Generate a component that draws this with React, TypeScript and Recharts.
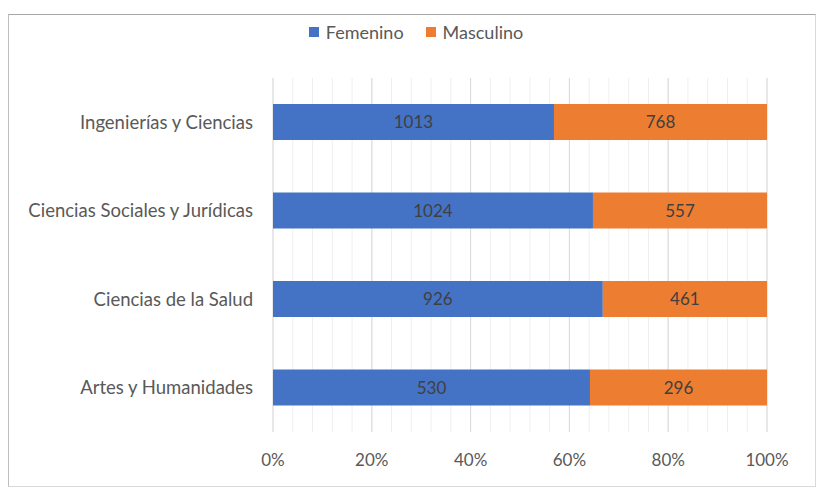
import React from 'react';
import { BarChart, Bar, XAxis, YAxis, CartesianGrid, Legend, LabelList } from 'recharts';

const categories = ['Ingenierías y Ciencias', 'Ciencias Sociales y Jurídicas', 'Ciencias de la Salud', 'Artes y Humanidades'];
const femenino = [1013, 1024, 926, 530];
const masculino = [768, 557, 461, 296];
const seriesNames = ['Femenino', 'Masculino'];
const seriesColors = ['#4472C4', '#ED7D31'];
const majorTicks = [0, 0.2, 0.4, 0.6, 0.8, 1];
const minorTicks = [0, 0.04, 0.08, 0.12, 0.16, 0.2, 0.24, 0.28, 0.32, 0.36, 0.4, 0.44, 0.48, 0.52, 0.56, 0.6, 0.64, 0.68, 0.72, 0.76, 0.8, 0.84, 0.88, 0.92, 0.96, 1];

const data = categories.map((name, i) => ({ name, Femenino: femenino[i], Masculino: masculino[i] }));

const FONT = 'Lato, "Noto Sans", sans-serif';

const LegendContent = () => (
  <div
    style={{
      height: 20,
      display: 'flex',
      justifyContent: 'center',
      alignItems: 'center',
      marginLeft: 8,
      fontFamily: FONT,
      fontSize: 18,
      color: '#595959',
    }}
  >
    {seriesNames.map((n, i) => (
      <div key={n} style={{ display: 'flex', alignItems: 'center', marginRight: i === 0 ? 22 : 0 }}>
        <span style={{ display: 'inline-block', width: 10, height: 10, background: seriesColors[i], marginRight: 7 }} />
        <span style={{ lineHeight: '20px' }}>{n}</span>
      </div>
    ))}
  </div>
);

export default function App() {
  return (
    <div
      style={{
        width: 808,
        height: 473,
        marginTop: 6,
        boxSizing: 'border-box',
        border: '1px solid #d9d9d9',
        borderTop: '1px solid #a6a6a6',
        borderLeft: '1px solid #bfbfbf',
        background: '#fff',
        fontFamily: FONT,
      }}
    >
      <BarChart
        width={806}
        height={471}
        data={data}
        layout="vertical"
        stackOffset="expand"
        margin={{ top: 43, right: 48, left: 0, bottom: 0 }}
      >
        <CartesianGrid
          horizontal={false}
          stroke="#efefef"
          strokeWidth={1}
          verticalCoordinatesGenerator={({ offset }: any) => minorTicks.map((t) => offset.left + t * offset.width)}
        />
        <CartesianGrid horizontal={false} stroke="#d9d9d9" strokeWidth={1} />
        <XAxis
          type="number"
          domain={[0, 1]}
          ticks={majorTicks}
          tickFormatter={(v: number) => `${Math.round(v * 100)}%`}
          axisLine={false}
          tickLine={false}
          tickSize={0}
          tickMargin={22}
          height={54}
          tick={{ fill: '#595959', fontSize: 17, fontFamily: FONT }}
        />
        <YAxis
          type="category"
          dataKey="name"
          width={264}
          axisLine={false}
          tickLine={false}
          tickSize={0}
          tickMargin={20}
          tick={{ fill: '#595959', fontSize: 18.5, fontFamily: FONT }}
        />
        <Legend
          verticalAlign="top"
          align="center"
          wrapperStyle={{ top: 7, left: 0, width: 806 }}
          content={() => <LegendContent />}
        />
        <Bar dataKey="Femenino" stackId="a" fill={seriesColors[0]} barSize={36} isAnimationActive={false}>
          <LabelList dataKey="Femenino" position="center" fill="#404040" fontSize={17} fontFamily={FONT} />
        </Bar>
        <Bar dataKey="Masculino" stackId="a" fill={seriesColors[1]} barSize={36} isAnimationActive={false}>
          <LabelList dataKey="Masculino" position="center" fill="#404040" fontSize={17} fontFamily={FONT} />
        </Bar>
      </BarChart>
    </div>
  );
}
